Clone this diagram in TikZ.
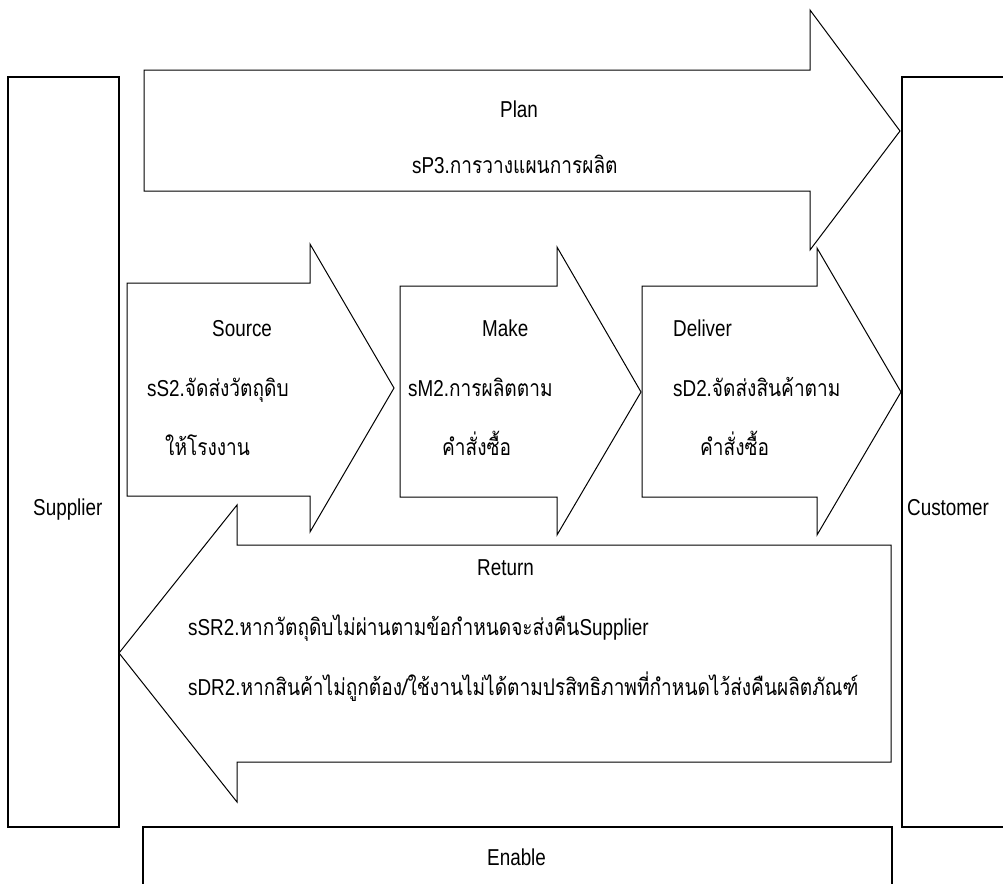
\documentclass[tikz,border=0pt]{standalone}
\usepackage{fontspec}
\setmainfont[FakeStretch=0.82]{Liberation Sans}
\newfontfamily\thaif[Script=Thai,FakeStretch=0.83]{Loma}
\newcommand{\thx}[1]{{\thaif #1}}
\begin{document}
\begin{tikzpicture}[x=1pt,y=-1pt,
  txt/.style={inner sep=0pt,anchor=base west,font=\fontsize{23}{27}\selectfont},
  sidebox/.style={draw=black,line width=1.6pt,fill=white},
  flow/.style={draw=black,line width=1pt,fill=white,line join=miter}]
\useasboundingbox (0,0) rectangle (1003,883);

% side partners
\draw[sidebox] (8,77) rectangle (119,827);
\draw[sidebox] (902,77) rectangle (1012,827);

% Plan arrow
\draw[flow] (144,70) -- (810,70) -- (810,10) -- (900,131) -- (810,250) -- (810,191) -- (144,191) -- cycle;

% Return arrow (pointing left)
\draw[flow] (891,545) -- (237,545) -- (237,505) -- (119,653) -- (237,802) -- (237,762) -- (891,762) -- cycle;

% Source, Make, Deliver arrows
\draw[flow] (127,283) -- (310,283) -- (310,244) -- (394,388) -- (310,532) -- (310,496) -- (127,496) -- cycle;
\draw[flow] (400,286) -- (557,286) -- (557,247) -- (641,392) -- (557,535) -- (557,497) -- (400,497) -- cycle;
\draw[flow] (642,286) -- (817,286) -- (817,248) -- (901,392) -- (817,535) -- (817,497) -- (642,497) -- cycle;

% Enable bar
\draw[sidebox,line width=1.3pt] (143,827) rectangle (892,900);

% labels
\node[txt] (plan) at (500,117) {Plan};
\node[txt] (plantx) at (412,173) {sP3.\thx{การวางแผนการผลิต}};
\node[txt] (source) at (212,336) {Source};
\node[txt] (sourcea) at (147,396) {sS2.\thx{จัดส่งวัตถุดิบ}};
\node[txt] (sourceb) at (165,455) {\thx{ให้โรงงาน}};
\node[txt] (make) at (482,336) {Make};
\node[txt] (makea) at (408,396) {sM2.\thx{การผลิตตาม}};
\node[txt] (makeb) at (442,455) {\thx{คำสั่งซื้อ}};
\node[txt] (deliver) at (673,336) {Deliver};
\node[txt] (delivera) at (673,396) {sD2.\thx{จัดส่งสินค้าตาม}};
\node[txt] (deliverb) at (700,455) {\thx{คำสั่งซื้อ}};
\node[txt] (supplier) at (33,515) {Supplier};
\node[txt] (customer) at (907,515) {Customer};
\node[txt] (return) at (477,575) {Return};
\node[txt] (returna) at (188,635) {sSR2.\thx{หากวัตถุดิบไม่ผ่านตามข้อกำหนดจะส่งคืน}Supplier};
\node[txt] (returnb) at (188,695) {sDR2.\thx{หากสินค้าไม่ถูกต้อง/ใช้งานไม่ได้ตามปรสิทธิภาพที่กำหนดไว้ส่งคืนผลิตภัณฑ์}};
\node[txt] (enable) at (487,865) {Enable};
\end{tikzpicture}
\end{document}
